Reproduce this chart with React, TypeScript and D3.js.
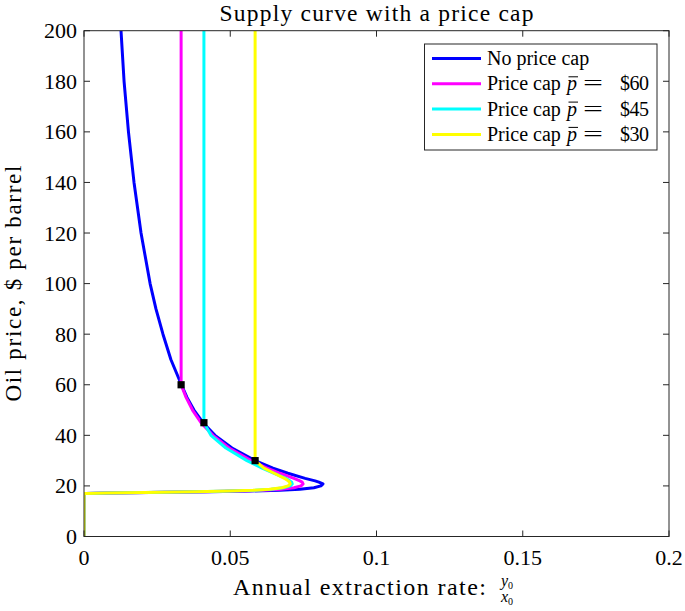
import React from "react";
import * as d3 from "d3";

const titleText = "Supply curve with a price cap";
const yLabelText = "Oil price, $ per barrel";
const xLabelText = "Annual extraction rate:";

const priceTicks = [0, 20, 40, 60, 80, 100, 120, 140, 160, 180, 200];
const rateTicks = [0, 0.05, 0.1, 0.15, 0.2];
const rateTickLabels = ["0", "0.05", "0.1", "0.15", "0.2"];

const noCapPrice = [200, 180, 160, 140, 120, 100, 90, 80, 70, 60, 55, 50, 45, 40, 35, 30, 27, 25, 23, 22, 21.5, 20.8, 20, 19.3, 18.7, 18.3, 18, 17.7, 17.4, 17.2, 17, 17, 0];
const noCapRate = [0.01265, 0.0137, 0.0152, 0.0171, 0.0195, 0.0226, 0.0246, 0.027, 0.0297, 0.0333, 0.0352, 0.0376, 0.0407, 0.0448, 0.0506, 0.0585, 0.0646, 0.0697, 0.0756, 0.079, 0.0803, 0.0817, 0.081, 0.0786, 0.0738, 0.067, 0.0568, 0.0431, 0.0226, 0.0089, 0.0007, 0, 0];

const cap60Price = [200, 60, 55, 50, 45, 40, 35, 30, 27, 25, 23, 22, 21.5, 20.8, 20, 19.3, 18.7, 18.3, 18, 17.7, 17.4, 17.2, 17, 17, 0];
const cap60Rate = [0.0332, 0.0332, 0.0349, 0.0371, 0.04, 0.0441, 0.0496, 0.0571, 0.0626, 0.067, 0.0718, 0.0738, 0.0746, 0.0749, 0.0742, 0.0718, 0.0672, 0.0612, 0.052, 0.04, 0.0215, 0.0085, 0.0007, 0, 0];

const cap45Price = [200, 45, 40, 35, 30, 27, 25, 23, 22, 21.5, 20.8, 20, 19.3, 18.7, 18.3, 18, 17.7, 17.4, 17.2, 17, 17, 0];
const cap45Rate = [0.041, 0.041, 0.0434, 0.0485, 0.0557, 0.0609, 0.065, 0.069, 0.0704, 0.071, 0.0712, 0.0705, 0.0682, 0.064, 0.0585, 0.05, 0.0385, 0.0208, 0.0082, 0.0007, 0, 0];

const cap30Price = [200, 30, 27, 25, 23, 22, 21.5, 20.8, 20, 19.3, 18.7, 18.3, 18, 17.7, 17.4, 17.2, 17, 17, 0];
const cap30Rate = [0.0585, 0.0585, 0.0615, 0.065, 0.0685, 0.0698, 0.0703, 0.0705, 0.0698, 0.0676, 0.0634, 0.0578, 0.0495, 0.038, 0.0205, 0.008, 0.0007, 0, 0];

const capPrices = [60, 45, 30];
const capRates = [0.0332, 0.041, 0.0585];

const legendNames = ["No price cap", "Price cap", "Price cap", "Price cap"];
const legendCaps = ["", "$60", "$45", "$30"];
const seriesColors = ["#0000ff", "#ff00ff", "#00ffff", "#ffff00"];

const FONT = "'Liberation Serif', serif";
const AX = "#262626";

export default function App() {
  const W = 685, H = 611;
  const x = d3.scaleLinear().domain([0, 0.2]).range([84, 669]);
  const y = d3.scaleLinear().domain([0, 200]).range([536.5, 30.7]);
  const [x0, x1] = x.range();
  const [y0, y1] = y.range();

  const series = [
    { p: noCapPrice, r: noCapRate },
    { p: cap60Price, r: cap60Rate },
    { p: cap45Price, r: cap45Rate },
    { p: cap30Price, r: cap30Rate },
  ];
  const line = d3.line<[number, number]>().x((d) => x(d[0])).y((d) => y(d[1]));

  const lx = 424.5, ly = 44, lw = 232.5, lh = 106;
  const rowH = 25.3;

  return (
    <svg width={W} height={H} style={{ position: "absolute", left: 0, top: 0, background: "#fff" }} fontFamily={FONT}>
      <rect x={0} y={0} width={W} height={H} fill="#fff" />
      <defs>
        <clipPath id="plotclip">
          <rect x={x0} y={y1} width={x1 - x0} height={y0 - y1} />
        </clipPath>
      </defs>
      {/* title */}
      <text x={(x0 + x1) / 2} y={21} textAnchor="middle" fontSize={23.5} fill="#000" textLength={314} lengthAdjust="spacing">{titleText}</text>

      {/* series */}
      <g clipPath="url(#plotclip)">
        {series.map((s, i) => (
          <path key={i} d={line(s.r.map((r, j) => [r, s.p[j]]) as [number, number][]) || ""} fill="none" stroke={seriesColors[i]} strokeWidth={3} strokeLinejoin="round" />
        ))}
      </g>
      {capRates.map((r, i) => (
        <rect key={i} x={x(r) - 3.6} y={y(capPrices[i]) - 3.6} width={7.2} height={7.2} fill="#000" />
      ))}

      {/* axes box */}
      <rect x={x0} y={y1} width={x1 - x0} height={y0 - y1} fill="none" stroke={AX} strokeWidth={1} />
      {priceTicks.map((t) => (
        <g key={"y" + t}>
          <line x1={x0} x2={x0 + 6} y1={y(t)} y2={y(t)} stroke={AX} />
          <line x1={x1} x2={x1 - 6} y1={y(t)} y2={y(t)} stroke={AX} />
          <text x={x0 - 7} y={y(t) + 7.5} textAnchor="end" fontSize={22} fill="#000">{t}</text>
        </g>
      ))}
      {rateTicks.map((t, i) => (
        <g key={"x" + t}>
          <line x1={x(t)} x2={x(t)} y1={y0} y2={y0 - 6} stroke={AX} />
          <line x1={x(t)} x2={x(t)} y1={y1} y2={y1 + 6} stroke={AX} />
          <text x={x(t)} y={565} textAnchor="middle" fontSize={22} fill="#000">{rateTickLabels[i]}</text>
        </g>
      ))}

      {/* y label */}
      <text transform={`translate(21,${(y0 + y1) / 2}) rotate(-90)`} textAnchor="middle" fontSize={23} fill="#000" textLength={236} lengthAdjust="spacing">{yLabelText}</text>

      {/* x label */}
      <text x={233} y={595} fontSize={24} fill="#000" textLength={253} lengthAdjust="spacing">{xLabelText}</text>
      <text x={507} y={586} textAnchor="middle" fontSize={16} fontStyle="italic" fill="#000">y<tspan fontSize={10} fontStyle="normal" dy={3}>0</tspan></text>
      <text x={507} y={602} textAnchor="middle" fontSize={16} fontStyle="italic" fill="#000">x<tspan fontSize={10} fontStyle="normal" dy={3}>0</tspan></text>

      {/* legend */}
      <rect x={lx} y={ly} width={lw} height={lh} fill="#fff" stroke={AX} strokeWidth={1} />
      {legendNames.map((n, i) => {
        const cy = 58.5 + i * rowH;
        return (
          <g key={"l" + i}>
            <line x1={432} x2={481} y1={cy} y2={cy} stroke={seriesColors[i]} strokeWidth={3} />
            <text x={487} y={cy + 6.5} fontSize={20} fill="#000">{n}</text>
            {i > 0 && (
              <>
                <text x={567} y={cy + 6.5} fontSize={20} fontStyle="italic" fill="#000">p</text>
                <line x1={568.5} x2={578} y1={cy - 7} y2={cy - 7} stroke="#000" strokeWidth={1} />
                <text x={583} y={cy + 6.5} fontSize={20} fill="#000" textLength={20} lengthAdjust="spacingAndGlyphs">=</text>
                <text x={620} y={cy + 6.5} fontSize={20} fill="#000" textLength={29} lengthAdjust="spacing">{legendCaps[i]}</text>
              </>
            )}
          </g>
        );
      })}
    </svg>
  );
}
